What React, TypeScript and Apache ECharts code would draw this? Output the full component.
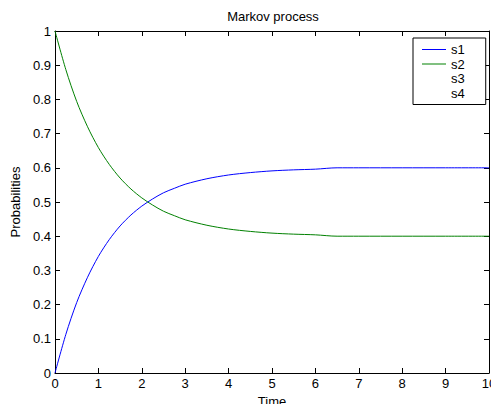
import React, { useEffect, useRef } from "react";
import * as echarts from "echarts";

const times = [0, 0.25, 0.5, 0.75, 1, 1.25, 1.5, 1.75, 2, 2.25, 2.5, 2.75, 3, 3.5, 4, 4.5, 5, 5.5, 6, 6.5, 7, 8, 9, 10];
const s1 = [0, 0.113, 0.206, 0.28, 0.341, 0.39, 0.43, 0.462, 0.488, 0.509, 0.527, 0.54, 0.552, 0.568, 0.579, 0.586, 0.591, 0.594, 0.596, 0.6, 0.6, 0.6, 0.6, 0.6];
const s2 = [1, 0.887, 0.794, 0.72, 0.659, 0.61, 0.57, 0.538, 0.512, 0.491, 0.473, 0.46, 0.448, 0.432, 0.421, 0.414, 0.409, 0.406, 0.404, 0.4, 0.4, 0.4, 0.4, 0.4];
const seriesNames = ["s1", "s2", "s3", "s4"];
const seriesColors = ["#0000ff", "#008000", "rgba(0,0,0,0)", "rgba(0,0,0,0)"];
const title = "Markov process";
const xName = "Time";
const yName = "Probabilities";

const FONT = "'Liberation Sans', Arial, sans-serif";

export default function App() {
  const ref = useRef<HTMLDivElement>(null);
  useEffect(() => {
    if (!ref.current) return;
    const chart = echarts.init(ref.current, null, { renderer: "svg" });
    const axisLine = { show: true, onZero: false, lineStyle: { color: "#000", width: 1 } };
    const tick = { show: true, inside: true, length: 5, lineStyle: { color: "#000" } };
    const label = { color: "#000", fontSize: 13, fontFamily: FONT };
    chart.setOption({
      animation: false,
      backgroundColor: "#fff",
      title: {
        text: title,
        left: 268,
        textAlign: "center",
        top: 5,
        textStyle: { fontSize: 13, fontWeight: "normal", color: "#000", fontFamily: FONT },
      },
      grid: { left: 55, right: 2, top: 31, bottom: 31, outerBoundsMode: "none", containLabel: false },
      legend: {
        data: seriesNames.map((n, i) => ({
          name: n,
          icon: "path://M0,0h48v2h-48z",
          itemStyle: { color: seriesColors[i], opacity: 1 },
        })),
        symbolKeepAspect: true,
        orient: "vertical",
        left: 413,
        top: 38,
        padding: [5, 21, 5, 9],
        itemWidth: 24,
        itemHeight: 14,
        itemGap: 1.5,
        borderColor: "#000",
        borderWidth: 1,
        backgroundColor: "#fff",
        selectedMode: false,
        textStyle: { color: "#000", fontSize: 13, fontFamily: FONT },
      },
      xAxis: [
        {
          type: "value", min: 0, max: 10, interval: 1, position: "bottom",
          axisLine, axisTick: tick, splitLine: { show: false },
          axisLabel: { ...label, margin: 4 },
          name: xName, nameLocation: "middle", nameGap: 20,
          nameTextStyle: { ...label },
        },
        {
          type: "value", min: 0, max: 10, interval: 1, position: "top",
          axisLine, axisTick: tick, splitLine: { show: false },
          axisLabel: { show: false },
        },
      ],
      yAxis: [
        {
          type: "value", min: 0, max: 1, interval: 0.1, position: "left",
          axisLine, axisTick: tick, splitLine: { show: false },
          axisLabel: { ...label, margin: 4, formatter: (v: number) => String(Number(v.toFixed(1))) },
          name: yName, nameLocation: "middle", nameGap: 32,
          nameTextStyle: { ...label },
        },
        {
          type: "value", min: 0, max: 1, interval: 0.1, position: "right",
          axisLine, axisTick: tick, splitLine: { show: false },
          axisLabel: { show: false },
        },
      ],
      series: [
        {
          name: "s1", type: "line", symbol: "none", smooth: 0.3,
          data: times.map((t, i) => [t, s1[i]]),
          color: seriesColors[0], lineStyle: { color: seriesColors[0], width: 1 },
        },
        {
          name: "s2", type: "line", symbol: "none", smooth: 0.3,
          data: times.map((t, i) => [t, s2[i]]),
          color: seriesColors[1], lineStyle: { color: seriesColors[1], width: 1 },
        },
        { name: "s3", type: "line", symbol: "none", data: [], color: seriesColors[2], lineStyle: { color: seriesColors[2] } },
        { name: "s4", type: "line", symbol: "none", data: [], color: seriesColors[3], lineStyle: { color: seriesColors[3] } },
      ],
    });
    return () => chart.dispose();
  }, []);
  return (
    <div
      ref={ref}
      style={{ position: "absolute", left: 0, top: 0, width: 491, height: 404, background: "#fff" }}
    />
  );
}
